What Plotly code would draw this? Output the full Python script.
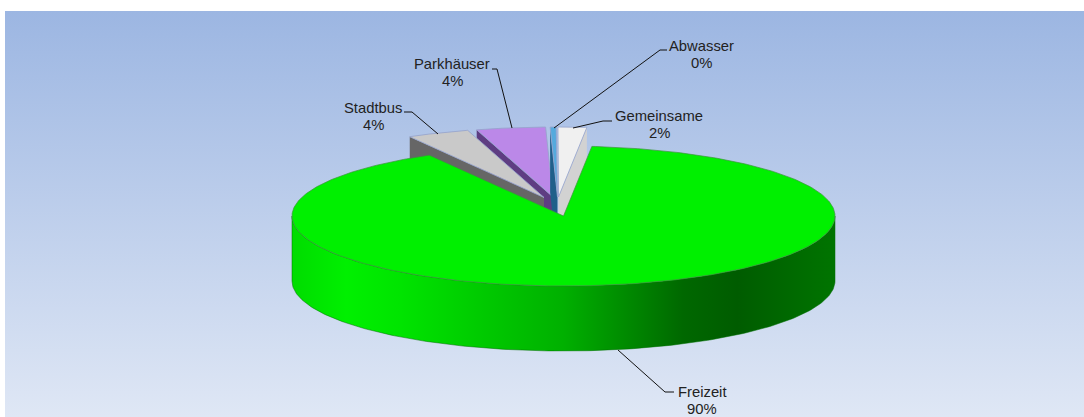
import numpy as np
import plotly.graph_objects as go

# ---- data ----
categories = ["Freizeit", "Stadtbus", "Parkhäuser", "Abwasser", "Gemeinsame"]
values = [90.1, 3.7, 4.1, 0.4, 1.7]

# ---- style / geometry ----
W, H = 1084, 417
START_DEG = 84.0
RX, RY, DEPTH = 271.5, 70.0, 65.0
CENTERS = [(563.5, 216.0), (544.0, 197.5), (553.0, 197.0), (557.5, 197.0), (558.5, 197.0)]
TOP = ["#00f000", "#c9c9c9", "#bb88e8", "#55aadd", "#f0f0f0"]
SIDE = [None, "#666666", "#5e3d82", "#1f5f8a", "#d2d2d2"]
EDGE = ["rgba(60,150,60,0.7)"] + ["rgba(150,165,205,0.85)"] * 4
LABEL_POS = [(702, 392), (373, 108), (452, 64), (701.5, 46), (659, 116)]
LEADERS = [
    ([618, 665, 674], [350, 392, 392]),
    ([404, 412, 438], [112, 112, 134]),
    ([492, 497, 512], [69, 69, 128]),
    ([667, 660, 554], [50, 50, 128]),
    ([612, 603, 573], [121, 121, 128]),
]
FONT = "Liberation Sans"

fig = go.Figure()
def add_poly(x, y, **kw):
    line = kw.pop("line", dict(width=0))
    fig.add_trace(go.Scatter(x=list(x), y=list(y), mode="lines", fill="toself",
                             line=line, hoverinfo="skip", showlegend=False, **kw))

# background panel
add_poly([5, W, W, 5, 5], [11, 11, H, H, 11],
         fillgradient=dict(type="vertical",
                           colorscale=[[0, "#dfe7f5"], [1, "#9cb6e2"]]))

# slice angles (clockwise from START_DEG)
sweeps = np.array(values) / sum(values) * 360.0
ends = START_DEG - np.cumsum(sweeps)
starts = ends + sweeps

def rim(cx, cy, t):
    r = np.radians(t)
    return cx + RX * np.cos(r), cy - RY * np.sin(r)

def draw_side(i):
    cx, cy = CENTERS[i]
    # the visible cut face: left side, except the rightmost slice (right side)
    edge_t = starts[i] if i != 4 else ends[i]
    ex, ey = rim(cx, cy, edge_t)
    add_poly([cx, ex, ex, cx, cx], [cy, ey, ey + DEPTH, cy + DEPTH, cy], fillcolor=SIDE[i])

def draw_top(i):
    cx, cy = CENTERS[i]
    x, y = rim(cx, cy, np.linspace(ends[i], starts[i], 40))
    add_poly([cx, *x, cx], [cy, *y, cy], fillcolor=TOP[i],
             line=dict(width=1, color=EDGE[i]))

# exploded small slices, behind the main slice
draw_side(2)
draw_side(1)
draw_top(1)
draw_top(2)
for i in [4, 3]:
    draw_side(i)
    draw_top(i)

# main slice
cx, cy = CENTERS[0]
a = np.linspace(starts[0], ends[0], 400)
x, y = rim(cx, cy, a)
front = np.linspace(180, 360, 200)
fx, fy = rim(cx, cy, front)
add_poly([*fx, *fx[::-1], fx[0]], [*(fy + DEPTH), *fy[::-1], fy[0] + DEPTH],
         fillgradient=dict(type="horizontal",
                           colorscale=[[0, "#00dc00"], [0.1, "#00f000"], [0.2, "#00e400"],
                                       [0.5, "#00b000"], [0.72, "#006800"], [0.82, "#005c00"],
                                       [1, "#007400"]]),
         line=dict(width=1, color="rgba(0,110,0,0.5)"))
add_poly([cx, *x, cx], [cy, *y, cy], fillcolor=TOP[0], line=dict(width=1, color=EDGE[0]))

# leaders and labels
for i, name in enumerate(categories):
    lx, ly = LEADERS[i]
    fig.add_trace(go.Scatter(x=lx, y=ly, mode="lines", line=dict(color="#111111", width=1),
                             hoverinfo="skip", showlegend=False))
    px, py = LABEL_POS[i]
    for text, yy in ((name, py), (f"{round(values[i])}%", py + 17)):
        fig.add_annotation(x=px, y=yy, text=text, showarrow=False, xanchor="center", yanchor="middle",
                           font=dict(family=FONT, size=14.8, color="#222222"))

fig.update_layout(
    width=W, height=H, margin=dict(l=0, r=0, t=0, b=0),
    paper_bgcolor="white", plot_bgcolor="white", showlegend=False,
    xaxis=dict(range=[0, W], visible=False, fixedrange=True),
    yaxis=dict(range=[H, 0], visible=False, fixedrange=True),
)
fig.write_html("out.html", config=dict(displayModeBar=False), include_plotlyjs=True,
               post_script="document.body.style.margin='0';document.body.style.overflow='hidden';")
